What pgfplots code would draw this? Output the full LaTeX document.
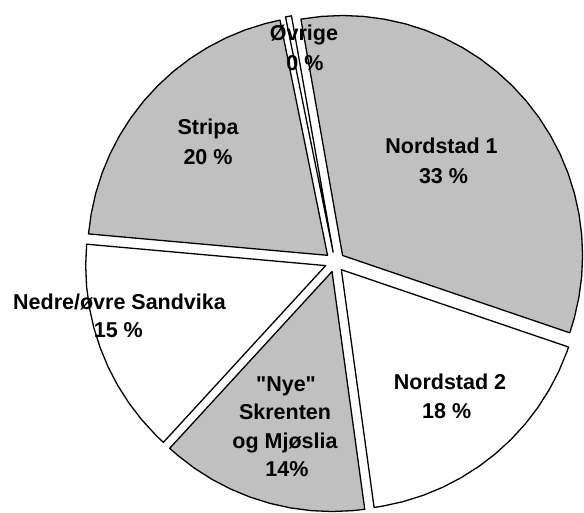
\documentclass[border=0pt]{standalone}
\usepackage{fontspec}
\setmainfont{Liberation Sans}
\newfontfamily\qfont{Liberation Sans}
\usepackage{pgfplots}
\pgfplotsset{compat=1.18}
\definecolor{pgray}{HTML}{C0C0C0}
\tikzset{lbl/.style={anchor=base, font=\bfseries\fontsize{21.5bp}{26bp}\selectfont, inner sep=0pt}}
% Slice shares (percent): Nordstad 1 33.0, Nordstad 2 17.6, "Nye" 14.0,
% Nedre/ovre Sandvika 14.6, Stripa 20.4, Ovrige 0.4 ; first slice starts at 100 deg, clockwise
\begin{document}
\begin{tikzpicture}
\begin{axis}[
  width=584bp, height=512bp, scale only axis,
  xmin=-335, xmax=249, ymin=-250, ymax=262,
  hide axis, clip=false,
  every axis plot/.append style={line width=1.3bp, line join=round, draw=black},
]
\path (rel axis cs:0,0) rectangle (rel axis cs:1,1);
% Nordstad 1 (33.0 %)
\addplot[data cs=polar, fill=pgray, xshift=7.59bp, yshift=6.51bp] coordinates {
 (0,0) (-18.8,240) (-15,240) (-10,240) (-5,240) (0,240) (5,240) (10,240) (15,240) (20,240)
 (25,240) (30,240) (35,240) (40,240) (45,240) (50,240) (55,240) (60,240) (65,240) (70,240)
 (75,240) (80,240) (85,240) (90,240) (95,240) (100,240) (0,0)} -- cycle;
% Nordstad 2 (17.6 %)
\addplot[data cs=polar, fill=white, xshift=6.37bp, yshift=-7.71bp] coordinates {
 (0,0) (-82.16,240) (-80,240) (-75,240) (-70,240) (-65,240) (-60,240) (-55,240) (-50,240)
 (-45,240) (-40,240) (-35,240) (-30,240) (-25,240) (-20,240) (-18.8,240) (0,0)} -- cycle;
% "Nye" Skrenten og Mjoslia (14.0 %)
\addplot[data cs=polar, fill=pgray, xshift=-2.98bp, yshift=-9.54bp] coordinates {
 (0,0) (-132.56,240) (-130,240) (-125,240) (-120,240) (-115,240) (-110,240) (-105,240)
 (-100,240) (-95,240) (-90,240) (-85,240) (-82.16,240) (0,0)} -- cycle;
% Nedre/ovre Sandvika (14.6 %)
\addplot[data cs=polar, fill=white, xshift=-9.33bp, yshift=-3.61bp] coordinates {
 (0,0) (-185.12,240) (-180,240) (-175,240) (-170,240) (-165,240) (-160,240) (-155,240)
 (-150,240) (-145,240) (-140,240) (-135,240) (-132.56,240) (0,0)} -- cycle;
% Stripa (20.4 %)
\addplot[data cs=polar, fill=pgray, xshift=-7.45bp, yshift=6.67bp] coordinates {
 (0,0) (101.44,240) (105,240) (110,240) (115,240) (120,240) (125,240) (130,240) (135,240)
 (140,240) (145,240) (150,240) (155,240) (160,240) (165,240) (170,240) (174.88,240) (0,0)} -- cycle;
% Ovrige (0.4 %)
\addplot[data cs=polar, fill=white, xshift=-1.86bp, yshift=9.83bp] coordinates {
 (0,0) (100,240) (101.44,240) (0,0)} -- cycle;
% labels
\node[lbl] at (axis cs:-31,221.5) {Øvrige};
\node[lbl] at (axis cs:-30,191.5) {0 \%};
\node[lbl] at (axis cs:-127,127) {Stripa};
\node[lbl] at (axis cs:-127,97) {20 \%};
\node[lbl] at (axis cs:106.5,108.7) {Nordstad 1};
\node[lbl] at (axis cs:108.5,78.7) {33 \%};
\node[lbl] at (axis cs:115,-127.3) {Nordstad 2};
\node[lbl] at (axis cs:111.7,-156.3) {18 \%};
\node[lbl] at (axis cs:-49,-129.7) {{\qfont\symbol{34}}Nye{\qfont\symbol{34}}};
\node[lbl] at (axis cs:-50,-158) {Skrenten};
\node[lbl] at (axis cs:-50,-186.3) {og Mjøslia};
\node[lbl] at (axis cs:-48,-214.7) {14\%};
\node[lbl] at (axis cs:-215.5,-48) {Nedre/øvre Sandvika};
\node[lbl] at (axis cs:-216.7,-75.7) {15 \%};
\end{axis}
\end{tikzpicture}
\end{document}
